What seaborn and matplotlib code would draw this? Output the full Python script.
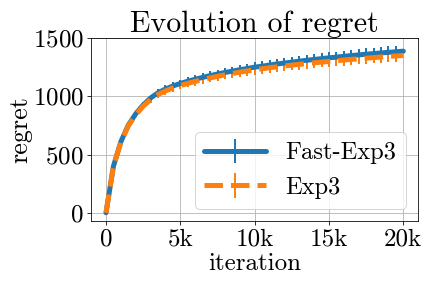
import numpy as np
import pandas as pd
import matplotlib
matplotlib.use("Agg")
import matplotlib.pyplot as plt
from matplotlib.ticker import FuncFormatter
import seaborn as sns

iterations = list(range(0, 20001, 500))

fast_exp3 = [0, 400, 610, 752, 850, 925, 985, 1030, 1062, 1088, 1110,
             1129, 1146, 1162, 1177, 1191, 1204, 1216, 1228, 1238, 1250,
             1258, 1268, 1277, 1285, 1293, 1301, 1309, 1316, 1323, 1330,
             1336, 1343, 1349, 1355, 1361, 1366, 1372, 1377, 1382, 1387]
fast_exp3_err = [0, 10, 15, 19, 22, 25, 27, 29, 31, 32, 33,
                 34, 35, 36, 37, 38, 38, 39, 40, 41, 42,
                 42, 43, 43, 44, 44, 45, 45, 46, 46, 47,
                 47, 48, 48, 49, 49, 50, 50, 51, 51, 0]

exp3 = [0, 400, 605, 745, 840, 915, 972, 1015, 1046, 1071, 1092,
        1111, 1127, 1143, 1157, 1171, 1184, 1195, 1207, 1217, 1228,
        1236, 1245, 1253, 1260, 1267, 1274, 1281, 1287, 1293, 1299,
        1305, 1311, 1316, 1322, 1327, 1332, 1337, 1342, 1346, 1350]
exp3_err = [0, 10, 15, 19, 22, 25, 27, 29, 31, 32, 33,
            34, 35, 36, 37, 38, 38, 39, 40, 41, 42,
            42, 43, 43, 44, 44, 45, 45, 46, 46, 47,
            47, 48, 48, 49, 49, 50, 50, 51, 51, 0]

df = pd.DataFrame({
    "iteration": iterations,
    "Fast-Exp3": fast_exp3, "Fast-Exp3_err": fast_exp3_err,
    "Exp3": exp3, "Exp3_err": exp3_err,
})

sns.set_theme(style="ticks", palette="tab10", rc={
    "axes.grid": True,
    "grid.color": "#b0b0b0",
    "grid.linewidth": 0.8,
    "axes.edgecolor": "black",
    "axes.linewidth": 0.8,
    "xtick.color": "black",
    "ytick.color": "black",
    "text.color": "black",
    "axes.labelcolor": "black",
})
plt.rcParams["font.family"] = ["cmr10", "DejaVu Serif"]
plt.rcParams["mathtext.fontset"] = "cm"
plt.rcParams["axes.unicode_minus"] = False
plt.rcParams["axes.formatter.use_mathtext"] = True

colors = sns.color_palette("tab10")

fig, ax = plt.subplots(figsize=(6, 4), dpi=72)

ax.errorbar(df["iteration"], df["Fast-Exp3"], yerr=df["Fast-Exp3_err"],
            color=colors[0], lw=5, elinewidth=2, label="Fast-Exp3")
ax.errorbar(df["iteration"], df["Exp3"], yerr=df["Exp3_err"],
            color=colors[1], lw=5, elinewidth=2, ls="--", label="Exp3")

ax.set_ylim(-70, 1500)
ax.set_xticks([0, 5000, 10000, 15000, 20000])
ax.set_yticks([0, 500, 1000, 1500])
ax.xaxis.set_major_formatter(FuncFormatter(lambda v, p: "0" if v == 0 else "%dk" % (v / 1000)))
ax.tick_params(labelsize=25, length=4, width=0.8)

ax.set_xlabel("iteration", fontsize=25, labelpad=2)
ax.set_ylabel("regret", fontsize=26, labelpad=0)
ax.set_title("Evolution of regret", fontsize=30, pad=4)
ax.legend(loc="lower right", fontsize=24.5, handlelength=2.5, labelspacing=0.5)

fig.subplots_adjust(left=0.211, right=0.968, top=0.868, bottom=0.233)
fig.savefig("out.png", dpi=72)
